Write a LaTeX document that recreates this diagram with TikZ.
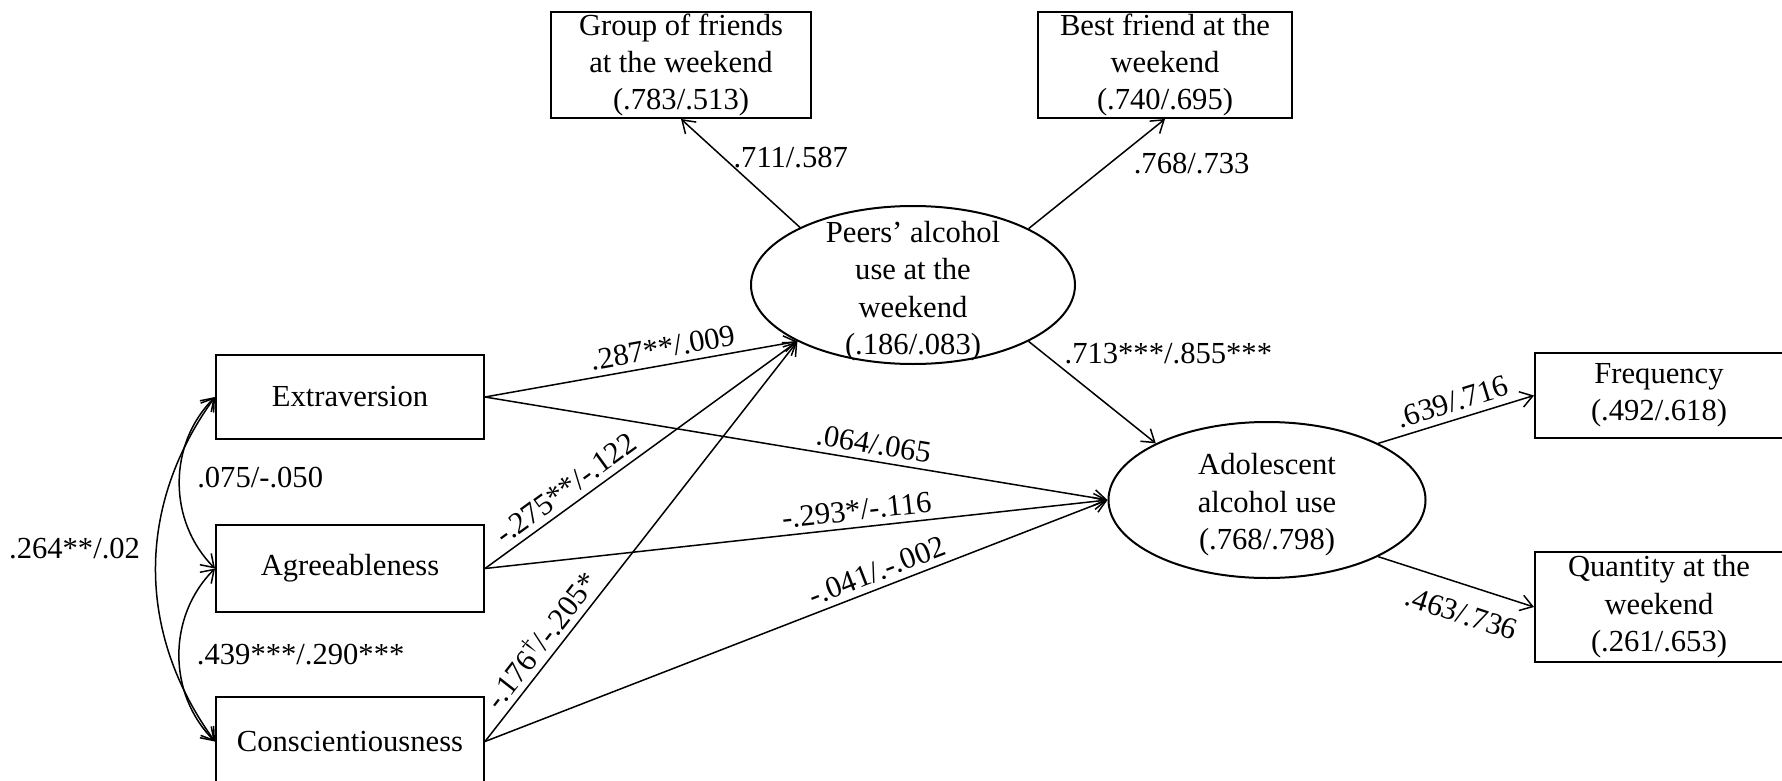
\documentclass[tikz,border=0pt]{standalone}
\usepackage{fontspec}
\setmainfont{Liberation Serif}
\usetikzlibrary{arrows.meta,shapes.geometric}
\begin{document}
\begin{tikzpicture}[x=0.5pt,y=0.5pt,
  every node/.style={font=\fontsize{15.3}{18.7}\selectfont},
  box/.style={draw, line width=1pt, rectangle, inner sep=0pt, align=center},
  latent/.style={draw, line width=1pt, ellipse, inner sep=0pt},
  conn/.style={line width=0.75pt, -{Straight Barb[length=6pt,width=8pt]}},
  cov/.style={line width=0.75pt, {Straight Barb[length=6pt,width=8pt]}-{Straight Barb[length=6pt,width=8pt]}},
  lab/.style={inner sep=0pt}
]
\useasboundingbox (0,0) rectangle (1782,-781);

% indicator boxes (top)
\node[box, minimum width=130pt, minimum height=53pt] (group) at (681,-65)
  {Group of friends\\at the weekend\\(.783/.513)};
\node[box, minimum width=127pt, minimum height=53pt] (best) at (1165,-65)
  {Best friend at the\\weekend\\(.740/.695)};

% latent variables
\node[latent, minimum width=162pt, minimum height=79pt,
  label={[lab, align=center, yshift=-3pt]center:Peers’ alcohol\\use at the\\weekend\\(.186/.083)}] (peers) at (913,-285) {};
\node[latent, minimum width=158.5pt, minimum height=78pt,
  label={[lab, align=center, yshift=-2.5pt]center:Adolescent\\alcohol use\\(.768/.798)}] (adol) at (1267,-500) {};

% personality boxes
\node[box, minimum width=134pt, minimum height=42pt] (extra) at (350,-397) {Extraversion};
\node[box, minimum width=134pt, minimum height=43.5pt] (agree) at (350,-568.5) {Agreeableness};
\node[box, minimum width=134pt, minimum height=44.5pt] (consc) at (350,-741.5) {Conscientiousness};

% outcome boxes
\node[box, minimum width=124pt, minimum height=42.5pt] (freq) at (1659,-395.5) {Frequency\\(.492/.618)};
\node[box, minimum width=124pt, minimum height=55pt] (quant) at (1659,-607) {Quantity at the\\weekend\\(.261/.653)};

% measurement paths
\draw[conn] (peers.153) -- node[lab, pos=.64, right=4.5pt]{.711/.587} (group.south);
\draw[conn] (peers.26) -- node[lab, pos=.59, right=12pt]{.768/.733} (best.south);
\draw[conn] (adol.27) -- node[lab, sloped, pos=.51, above=3.4pt]{.639/.716} (freq.west);
\draw[conn] (adol.333) -- node[lab, sloped, pos=.59, below=8.6pt]{.463/.736} (quant.west);

% structural paths
\draw[conn] (peers.334) -- node[lab, pos=.12, right=10pt]{.713***/.855***} (adol.153);
\draw[conn] (extra.east) -- node[lab, sloped, pos=.58, above=3pt]{.287**/.009} (peers.206);
\draw[conn] (extra.east) -- node[lab, sloped, pos=.62, above=3pt]{.064/.065} (adol.west);
\draw[conn] (agree.east) -- node[lab, sloped, pos=.29, above=3pt]{-.275**/-.122} (peers.206);
\draw[conn] (agree.east) -- node[lab, sloped, pos=.60, above=3pt]{-.293*/-.116} (adol.west);
\draw[conn] (consc.east) -- node[lab, sloped, pos=.225, above=3pt]{-.176\textsuperscript{\textdagger}/-.205*} (peers.206);
\draw[conn] (consc.east) -- node[lab, sloped, pos=.64, above=3pt]{-.041/.-.002} (adol.west);

% covariances
\draw[cov] (extra.west) to[out=225,in=135] node[lab, pos=.5, right=8.5pt, yshift=2.5pt]{.075/-.050} (agree.west);
\draw[cov] (agree.west) to[out=225,in=135] node[lab, pos=.5, right=8.5pt]{.439***/.290***} (consc.west);
\draw[cov] (extra.west) to[out=234,in=126] node[lab, pos=.5, left=7.5pt, yshift=10.5pt]{.264**/.02} (consc.west);
\end{tikzpicture}
\end{document}
